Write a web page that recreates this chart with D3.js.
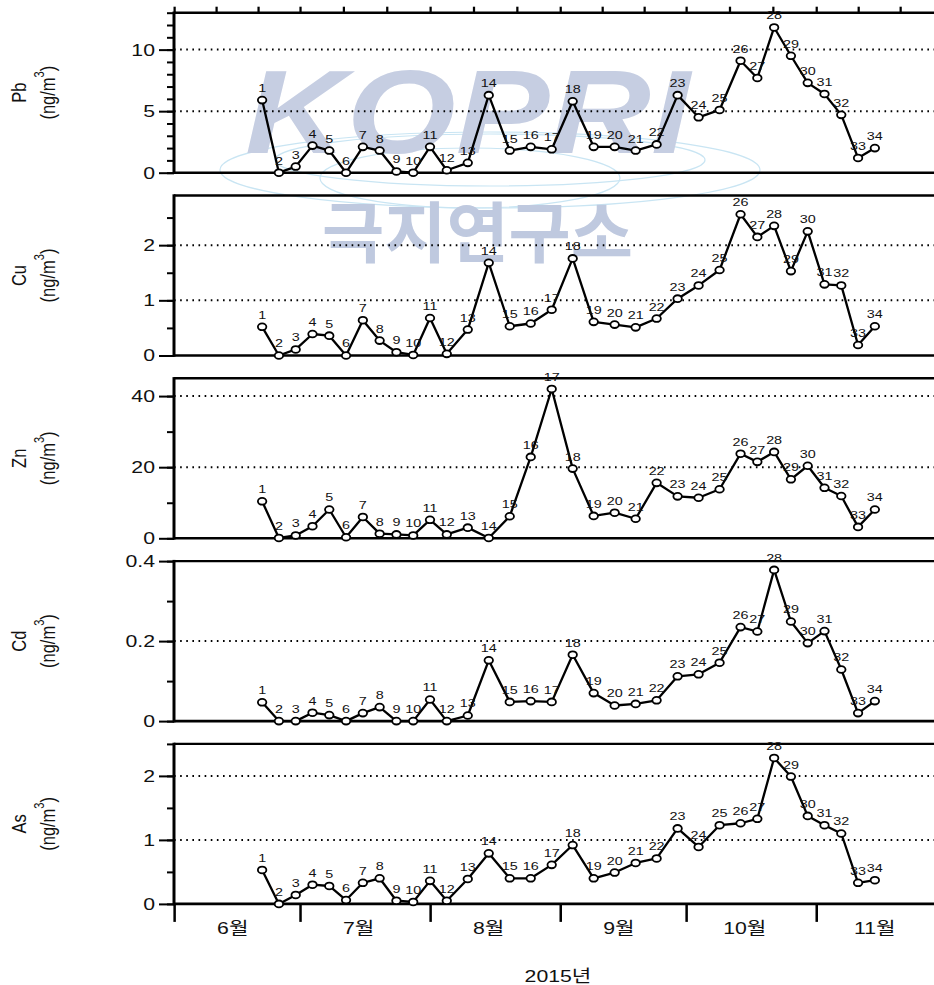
<!DOCTYPE html>
<html>
<head>
<meta charset="utf-8">
<script src="https://cdn.jsdelivr.net/npm/d3@7"></script>
<style>
  html, body { margin: 0; padding: 0; background: #fff; }
  svg { display: block; }
  text { font-family: "Liberation Sans", Arial, "Noto Sans CJK KR", sans-serif; }
</style>
</head>
<body>
<svg id="chart"></svg>
<script>
// Sampling dates (middle of each filter period) and sample numbers
const sampleDates = [
  "2015-06-22", "2015-06-26", "2015-06-30", "2015-07-04", "2015-07-08", "2015-07-12",
  "2015-07-16", "2015-07-20", "2015-07-24", "2015-07-28", "2015-08-01", "2015-08-05",
  "2015-08-10", "2015-08-15", "2015-08-20", "2015-08-25", "2015-08-30", "2015-09-04",
  "2015-09-09", "2015-09-14", "2015-09-19", "2015-09-24", "2015-09-29", "2015-10-04",
  "2015-10-09", "2015-10-14", "2015-10-18", "2015-10-22", "2015-10-26", "2015-10-30",
  "2015-11-03", "2015-11-07", "2015-11-11", "2015-11-15"
];
const sampleNo = [1, 2, 3, 4, 5, 6, 7, 8, 9, 10, 11, 12, 13, 14, 15, 16, 17,
                  18, 19, 20, 21, 22, 23, 24, 25, 26, 27, 28, 29, 30, 31, 32, 33, 34];

// Concentrations, ng/m3
const pbValues = [5.9, 0, 0.5, 2.2, 1.8, 0, 2.1, 1.8, 0.1, 0, 2.1, 0.2,
                  0.8, 6.3, 1.8, 2.1, 1.9, 5.8, 2.1, 2.1, 1.8, 2.3, 6.3, 4.5,
                  5.1, 9.1, 7.7, 11.8, 9.5, 7.3, 6.4, 4.7, 1.2, 2.0];
const cuValues = [0.52, 0, 0.11, 0.39, 0.36, 0, 0.64, 0.27, 0.06, 0.01, 0.68, 0.03,
                  0.47, 1.68, 0.53, 0.58, 0.83, 1.76, 0.61, 0.56, 0.51, 0.67, 1.03, 1.27,
                  1.55, 2.56, 2.15, 2.35, 1.53, 2.25, 1.29, 1.27, 0.19, 0.53];
const znValues = [10.4, 0.1, 0.8, 3.4, 8.1, 0.3, 6.0, 1.3, 1.1, 0.8, 5.2, 1.1,
                  3.0, 0.1, 6.2, 22.9, 42.0, 19.6, 6.3, 7.2, 5.5, 15.6, 11.8, 11.4,
                  13.8, 23.8, 21.5, 24.3, 16.6, 20.4, 14.2, 11.9, 3.2, 8.1];
const cdValues = [0.047, 0, 0, 0.021, 0.015, 0, 0.02, 0.035, 0, 0, 0.054, 0,
                  0.014, 0.152, 0.048, 0.05, 0.048, 0.166, 0.07, 0.039, 0.043, 0.052, 0.112, 0.117,
                  0.146, 0.235, 0.224, 0.378, 0.249, 0.195, 0.225, 0.129, 0.02, 0.05];
const asValues = [0.53, 0, 0.14, 0.3, 0.28, 0.06, 0.33, 0.4, 0.05, 0.03, 0.36, 0.05,
                  0.39, 0.79, 0.4, 0.4, 0.61, 0.92, 0.4, 0.49, 0.64, 0.71, 1.18, 0.89,
                  1.23, 1.26, 1.33, 2.28, 1.99, 1.375, 1.23, 1.1, 0.33, 0.37];

// Axis settings per element
const elementNames = ["Pb", "Cu", "Zn", "Cd", "As"];
const yMax = [13, 2.9, 45, 0.4, 2.5];
const majorTicks = [[0, 5, 10], [0, 1, 2], [0, 20, 40], [0, 0.2, 0.4], [0, 1, 2]];
const minorStep = [1, 0.5, 10, 0.1, 0.5];
const monthLabels = ["6월", "7월", "8월", "9월", "10월", "11월"];
const yearLabel = "2015년";

const series = [pbValues, cuValues, znValues, cdValues, asValues];

// The figure is drawn on a horizontally stretched canvas
const S = 1.25;
const W = 934, H = 985;
const vx = p => p / S;

const svg = d3.select("#chart")
  .attr("width", W).attr("height", H)
  .attr("viewBox", `0 0 ${W / S} ${H}`)
  .attr("preserveAspectRatio", "none");

const parse = d3.timeParse("%Y-%m-%d");
const dates = sampleDates.map(parse);

const x = d3.scaleTime()
  .domain([new Date(2015, 5, 1), new Date(2015, 11, 1)])
  .range([vx(174), vx(942)]);
const x0 = x.range()[0];
const xEnd = W / S + 5;

const panelH = 160;
const panelTop0 = 12.7;
const panelStep = 182.8;

// Background watermark
const wm = svg.append("g").attr("class", "watermark");
const globe = wm.append("g").attr("fill", "none").attr("stroke", "#c9e5f3").attr("stroke-width", 1.2);
[[490, 170, 270, 38], [490, 160, 215, 26], [470, 178, 150, 30]].forEach(([cx, cy, rx, ry]) => {
  globe.append("ellipse").attr("cx", vx(cx)).attr("cy", cy).attr("rx", vx(rx)).attr("ry", ry)
    .attr("vector-effect", "non-scaling-stroke");
});
wm.append("text")
  .attr("x", vx(245)).attr("y", 153)
  .attr("font-size", 118).attr("font-weight", 900).attr("font-style", "italic")
  .attr("textLength", vx(445)).attr("lengthAdjust", "spacingAndGlyphs")
  .attr("fill", "#c6cee2")
  .text("KOPRI");
wm.append("text")
  .attr("x", vx(322)).attr("y", 257)
  .attr("font-size", 66).attr("font-weight", 700)
  .style("font-family", "'Noto Sans CJK KR', sans-serif")
  .attr("textLength", vx(311)).attr("lengthAdjust", "spacingAndGlyphs")
  .attr("fill", "#bfc9df")
  .text("극지연구소");

const fmt = d => d === 0 ? "0" : d3.format("~g")(d);

elementNames.forEach((name, i) => {
  const top = panelTop0 + i * panelStep;
  const g = svg.append("g").attr("transform", `translate(0,${top})`);
  const y = d3.scaleLinear().domain([0, yMax[i]]).range([panelH, 0]);

  // dotted reference lines
  majorTicks[i].filter(v => v > 0 && v < yMax[i]).forEach(v => {
    g.append("line")
      .attr("x1", x0).attr("x2", xEnd)
      .attr("y1", y(v)).attr("y2", y(v))
      .attr("stroke", "#000").attr("stroke-width", 2)
      .attr("stroke-dasharray", "1.3 3.6");
  });

  // minor ticks
  const minor = d3.range(0, yMax[i] + 1e-9, minorStep[i]);
  const minorAxis = g.append("g").attr("transform", `translate(${x0},0)`)
    .call(d3.axisLeft(y).tickValues(minor).tickSize(vx(7)).tickFormat(""));
  minorAxis.select(".domain").remove();
  minorAxis.selectAll(".tick line").attr("stroke", "#000").attr("stroke-width", 2);

  // major ticks with labels
  const majorAxis = g.append("g").attr("transform", `translate(${x0},0)`)
    .call(d3.axisLeft(y).tickValues(majorTicks[i]).tickSize(vx(15)).tickPadding(vx(4)).tickFormat(fmt));
  majorAxis.select(".domain").remove();
  majorAxis.selectAll(".tick line").attr("stroke", "#000").attr("stroke-width", 2);
  majorAxis.selectAll(".tick text")
    .attr("fill", "#111").attr("font-size", 17)
    .style("font-family", "'Liberation Sans', Arial, sans-serif");

  // frame: top border, zero line, left axis
  g.append("line").attr("x1", x0).attr("x2", xEnd).attr("y1", 0).attr("y2", 0)
    .attr("stroke", "#000").attr("stroke-width", 2.4);
  g.append("line").attr("x1", x0).attr("x2", xEnd).attr("y1", panelH).attr("y2", panelH)
    .attr("stroke", "#000").attr("stroke-width", 2.6);
  g.append("line").attr("x1", x0).attr("x2", x0).attr("y1", -1.2).attr("y2", panelH + 1.3)
    .attr("stroke", "#000").attr("stroke-width", 2.4);

  // y-axis title
  const cy = panelH / 2;
  g.append("text")
    .attr("transform", `translate(${vx(19)},${cy}) rotate(-90)`)
    .attr("text-anchor", "middle").attr("dominant-baseline", "central")
    .attr("font-size", 16.5).attr("fill", "#111")
    .text(name);
  const unit = g.append("text")
    .attr("transform", `translate(${vx(47)},${cy}) rotate(-90)`)
    .attr("text-anchor", "middle").attr("dominant-baseline", "central")
    .attr("font-size", 16.5).attr("fill", "#111");
  unit.append("tspan").text("(ng/m");
  unit.append("tspan").attr("font-size", 11).attr("dy", -6).text("3");
  unit.append("tspan").attr("dy", 6).text(")");

  // data line, markers and sample numbers
  const vals = series[i];
  const pts = dates.map((d, k) => ({ d, v: vals[k], n: sampleNo[k] }));
  g.append("path")
    .datum(pts)
    .attr("fill", "none").attr("stroke", "#000").attr("stroke-width", 2.3)
    .attr("stroke-linejoin", "round")
    .attr("vector-effect", "non-scaling-stroke")
    .attr("d", d3.line().x(p => x(p.d)).y(p => y(p.v)));
  g.selectAll("circle.m").data(pts).join("circle")
    .attr("class", "m")
    .attr("cx", p => x(p.d)).attr("cy", p => y(p.v)).attr("r", 3.4)
    .attr("fill", "#fff").attr("stroke", "#000").attr("stroke-width", 1.8)
    .attr("vector-effect", "non-scaling-stroke");
  g.selectAll("text.lab").data(pts).join("text")
    .attr("class", "lab")
    .attr("x", p => x(p.d)).attr("y", p => y(p.v) - 8)
    .attr("text-anchor", "middle")
    .attr("font-size", 11.5).attr("fill", "#111")
    .text(p => p.n);

  // top ticks (three per month) on the first panel
  if (i === 0) {
    const thirds = [];
    for (let m = 5; m <= 10; m++) {
      const a = new Date(2015, m, 1), b = new Date(2015, m + 1, 1);
      [0, 1, 2].forEach(k => thirds.push(new Date(+a + (b - a) * k / 3)));
    }
    const topAxis = g.append("g")
      .call(d3.axisTop(x).tickValues(thirds).tickSize(6).tickFormat(""));
    topAxis.select(".domain").remove();
    topAxis.selectAll(".tick line").attr("stroke", "#000").attr("stroke-width", 1.8);
  }

  // month axis under the last panel
  if (i === elementNames.length - 1) {
    const monthStarts = d3.range(5, 12).map(m => new Date(2015, m, 1));
    const bottomAxis = g.append("g").attr("transform", `translate(0,${panelH})`)
      .call(d3.axisBottom(x).tickValues(monthStarts).tickSize(18).tickFormat(""));
    bottomAxis.select(".domain").remove();
    bottomAxis.selectAll(".tick line").attr("stroke", "#000").attr("stroke-width", 2);

    g.selectAll("text.month").data(monthLabels).join("text")
      .attr("class", "month")
      .attr("x", (t, k) => x(new Date(2015, 5 + k, 15)))
      .attr("y", panelH + 30)
      .attr("text-anchor", "middle")
      .attr("font-size", 17).attr("fill", "#111")
      .text(t => t);

    g.append("text")
      .attr("x", d3.mean(x.range())).attr("y", panelH + 78)
      .attr("text-anchor", "middle")
      .attr("font-size", 17).attr("fill", "#111")
      .text(yearLabel);
  }
});
</script>
</body>
</html>
